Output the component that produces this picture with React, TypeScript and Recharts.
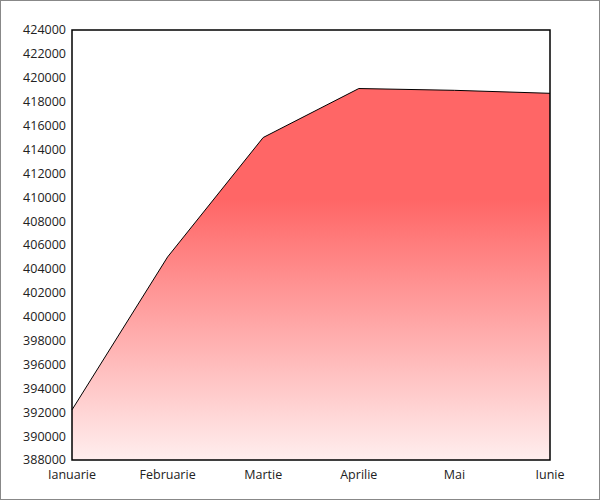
import React from "react";
import { AreaChart, Area, XAxis, YAxis, ReferenceArea } from "recharts";

const months = ["Ianuarie", "Februarie", "Martie", "Aprilie", "Mai", "Iunie"];
const values = [392200, 405000, 415000, 419100, 418950, 418700];
const yTicks = [388000, 390000, 392000, 394000, 396000, 398000, 400000, 402000, 404000, 406000, 408000, 410000, 412000, 414000, 416000, 418000, 420000, 422000, 424000];

const data = months.map((m, i) => ({ month: m, value: values[i] }));

export default function App() {
  return (
    <div
      style={{
        position: "absolute",
        left: 0,
        top: 0,
        width: 600,
        height: 500,
        boxSizing: "border-box",
        border: "1px solid #888",
        background: "#fff",
        fontFamily: "'Open Sans', sans-serif",
      }}
    >
      <AreaChart width={598} height={498} data={data} margin={{ top: 29, right: 49, bottom: 9, left: 0 }}>
        <defs>
          <linearGradient id="redGrad" x1="0" y1="0" x2="0" y2="1">
            <stop offset="0" stopColor="#ff6666" />
            <stop offset="0.3" stopColor="#ff6666" />
            <stop offset="1" stopColor="#ffeeee" />
          </linearGradient>
        </defs>
        <XAxis
          dataKey="month"
          height={30}
          tickLine={false}
          axisLine={false}
          tickSize={0}
          tickMargin={10}
          interval={0}
          tick={{ fill: "#222", fontSize: 12.5 }}
        />
        <YAxis
          width={71}
          domain={[388000, 424000]}
          ticks={yTicks}
          interval={0}
          tickLine={false}
          axisLine={false}
          tickSize={0}
          tickMargin={6}
          tick={{ fill: "#222", fontSize: 12.5 }}
        />
        <Area
          type="linear"
          dataKey="value"
          stroke="#000"
          strokeWidth={1}
          fill="url(#redGrad)"
          fillOpacity={1}
          baseValue={388000}
          isAnimationActive={false}
          dot={false}
          activeDot={false}
        />
        <ReferenceArea
          x1="Ianuarie"
          x2="Iunie"
          y1={388000}
          y2={424000}
          fill="none"
          stroke="#000"
          strokeWidth={1.5}
          ifOverflow="visible"
        />
      </AreaChart>
    </div>
  );
}
